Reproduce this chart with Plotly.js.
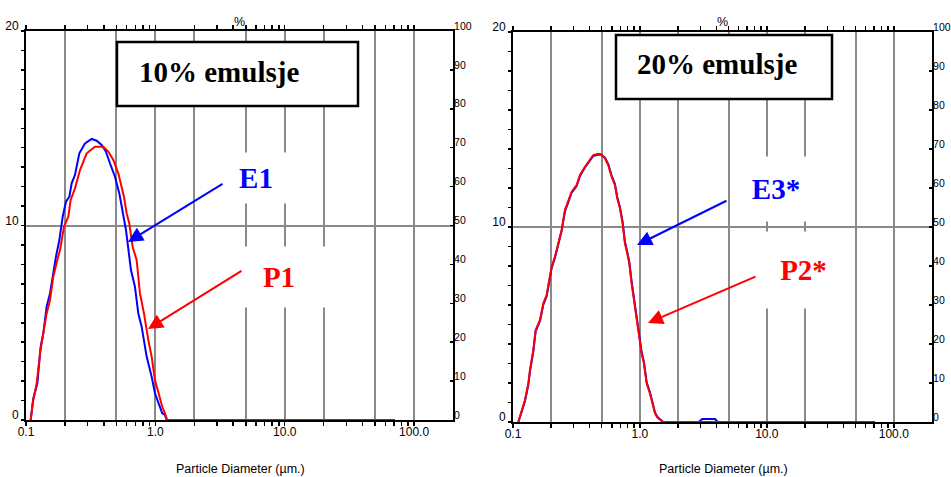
<!DOCTYPE html>
<html><head><meta charset="utf-8">
<script src="https://cdn.plot.ly/plotly-3.0.1.min.js"></script>
<style>html,body{margin:0;padding:0;background:#fff}</style>
</head><body><div id="chart" style="width:951px;height:477px"></div>
<script>
// ---- data (particle diameter in µm, volume %) ----
const e1X=[0.1087,0.1139,0.1224,0.1298,0.1361,0.1444,0.1533,0.1607,0.1705,0.181,0.1921,0.2038,0.2163,0.2254,0.2391,0.2584,0.2858,0.3218,0.3517,0.3845,0.4151,0.4457,0.4874,0.5265,0.5585,0.5927,0.6478,0.6955,0.738,0.7834,0.8563,0.9359,0.993,1.085,1.131,1.187,1.222,71];
const e1Y=[0,1.11,1.89,3.77,4.46,5.83,6.51,7.37,8.40,9.25,10.45,11.22,11.48,12.17,12.6,13.71,14.22,14.45,14.36,14.14,13.8,13.2,12.51,11.65,10.63,9.77,7.71,6.85,5.48,4.8,3.26,2.23,1.37,0.68,0.34,0.26,0,0];
const p1X=[0.1087,0.1126,0.121,0.1283,0.1361,0.1444,0.1533,0.1626,0.1746,0.1832,0.1967,0.2124,0.2214,0.2391,0.2614,0.2944,0.3414,0.396,0.4329,0.4731,0.5172,0.539,0.5718,0.5998,0.6288,0.6672,0.7165,0.7603,0.8166,0.882,0.9359,0.993,1.073,1.131,1.187,1.236,71];
const p1Y=[0,0.86,1.89,3.43,4.46,5.48,6.17,7.37,8.23,8.74,9.94,10.45,11.31,11.91,12.85,13.71,14.05,14.05,13.8,13.37,12.68,12.17,11.48,10.63,10.11,8.91,8.23,6.51,5.48,4.11,3.26,2.06,1.2,0.68,0.34,0,0];
const e3X=[0.1102,0.117,0.1243,0.1321,0.1361,0.1446,0.1508,0.1632,0.1734,0.1841,0.1932,0.2016,0.2141,0.2275,0.2416,0.2567,0.2727,0.2897,0.3172,0.337,0.3689,0.3919,0.429,0.4613,0.49,0.5302,0.5629,0.5983,0.6355,0.663,0.6958,0.7302,0.7618,0.7948,0.8241,0.86,0.8972,0.9414,0.9879,1.031,1.075,1.129,1.199,1.259,1.313,1.369,1.455,1.52,2.9,3.1,3.9,4.1,71];
const e3Y=[0,0.55,1.08,1.92,2.6,3.62,4.65,5.18,6.02,6.45,7.2,7.9,8.42,9.1,9.8,10.8,11.25,11.76,12.1,12.62,13.05,13.3,13.64,13.7,13.72,13.55,13.22,12.64,12.2,11.53,11.02,10.26,9.24,8.72,8.22,7.2,6.34,5.48,4.3,3.6,3.08,2.05,1.53,1.02,0.5,0.27,0.12,0,0,0.15,0.15,0,0];
const p2X=[0.1102,0.117,0.1243,0.1321,0.1361,0.1446,0.1508,0.1632,0.1734,0.1841,0.1932,0.2016,0.2141,0.2275,0.2416,0.2567,0.2727,0.2897,0.3172,0.337,0.3689,0.3919,0.429,0.4613,0.49,0.5302,0.5629,0.5983,0.6355,0.663,0.6958,0.7302,0.7618,0.7948,0.8241,0.86,0.8972,0.9414,0.9879,1.031,1.075,1.129,1.199,1.259,1.313,1.369,1.455,1.52,71];
const p2Y=[0,0.62,1.13,1.98,2.67,3.69,4.72,5.23,6.09,6.51,7.28,7.96,8.48,9.16,9.85,10.87,11.3,11.81,12.15,12.67,13.09,13.35,13.69,13.74,13.74,13.52,13.18,12.58,12.15,11.47,10.96,10.19,9.16,8.65,8.14,7.11,6.26,5.4,4.21,3.52,3.01,1.98,1.47,0.96,0.45,0.24,0.1,0,0];

const seriesNames=['E1','P1','E3*','P2*'];
const panelTitles=['10% emulsje','20% emulsje'];
const xTickVals=[0.1,1,10,100];
const xTickText=['0.1','1.0','10.0','100.0'];
const xGridVals=[0.1,0.2,0.5,1,2,5,10,20,50,100];
const xMinorVals=[0.3,0.4,0.6,0.7,0.8,0.9,3,4,6,7,8,9,30,40,60,70,80,90];
const leftTickVals=[0,10,20];
const rightTickVals=[0,10,20,30,40,50,60,70,80,90,100];
const xTitle='Particle Diameter (µm.)';
const pctTitle='%';

// ---- layout helpers ----
const W=951,H=477;
const fx=p=>p/W, fy=p=>1-p/H;
const BLUE='#0000ff', RED='#ff0000', GRID='#8a8a8a';
const sans='"Liberation Sans Narrow","Arial Narrow","Liberation Sans",Arial,sans-serif';
const tickFont={family:sans,size:12,color:'#000'};
const rightFont={family:sans,size:10.5,color:'#000'};
const serif='"Liberation Serif","Times New Roman",serif';
const xText=xGridVals.map(v=>{const i=xTickVals.indexOf(v);return i>=0?xTickText[i]:'';});

function xAxis(d0,d1,anchor){return {type:'log',range:[-1,Math.log10(200)],domain:[fx(d0),fx(d1)],anchor:anchor,
  tickmode:'array',tickvals:xGridVals,ticktext:xText,ticks:'outside',ticklen:4,tickwidth:1.5,tickcolor:'#000',
  minor:{tickmode:'array',tickvals:xMinorVals,ticks:'outside',ticklen:4,tickwidth:1.5,tickcolor:'#000',showgrid:false},
  showgrid:true,gridcolor:GRID,gridwidth:2,showline:true,linecolor:'#000',linewidth:2,mirror:'ticks',zeroline:false,
  tickfont:tickFont,ticklabelstandoff:-4,fixedrange:true};}
function yLeft(t,b,anchor){return {domain:[fy(b),fy(t)],anchor:anchor,range:[0,20],tickmode:'array',tickvals:leftTickVals,
  ticks:'outside',ticklen:3,tickwidth:1.5,tickcolor:'#000',
  minor:{tickmode:'linear',tick0:0,dtick:1,ticks:'outside',ticklen:3,tickwidth:1.5,tickcolor:'#000',showgrid:false},
  showgrid:true,gridcolor:GRID,gridwidth:2,showline:true,linecolor:'#000',linewidth:2,zeroline:false,
  tickfont:tickFont,ticklabelshift:-5,ticklabelstandoff:0,fixedrange:true};}
function yRight(over,anchor){return {overlaying:over,side:'right',anchor:anchor,range:[0,100],tickmode:'array',tickvals:rightTickVals,
  ticks:'inside',ticklen:3,tickwidth:1.5,tickcolor:'#000',showgrid:false,showline:true,linecolor:'#000',linewidth:2,zeroline:false,
  tickfont:rightFont,ticklabelshift:-5,ticklabelstandoff:-3,fixedrange:true};}

const ln=c=>({color:c,width:2});
const traces=[
  {x:[],y:[],xaxis:'x',yaxis:'y2',mode:'lines',showlegend:false,hoverinfo:'skip'},
  {x:[],y:[],xaxis:'x2',yaxis:'y4',mode:'lines',showlegend:false,hoverinfo:'skip'},
  {x:e1X,y:e1Y,xaxis:'x',yaxis:'y',mode:'lines',line:ln(BLUE),name:seriesNames[0],hoverinfo:'skip'},
  {x:p1X,y:p1Y,xaxis:'x',yaxis:'y',mode:'lines',line:ln(RED),name:seriesNames[1],hoverinfo:'skip'},
  {x:e3X,y:e3Y,xaxis:'x2',yaxis:'y3',mode:'lines',line:ln(BLUE),name:seriesNames[2],hoverinfo:'skip'},
  {x:p2X,y:p2Y,xaxis:'x2',yaxis:'y3',mode:'lines',line:ln(RED),name:seriesNames[3],hoverinfo:'skip'}
];

const ann=[];
const txt=(s,x,y,font,extra)=>ann.push(Object.assign({text:s,xref:'paper',yref:'paper',x:fx(x),y:fy(y),showarrow:false,font:font,xanchor:'center',yanchor:'middle'},extra||{}));
const smallFont={family:sans,size:12.5,color:'#000'};
txt(pctTitle,239.5,22,smallFont); txt(pctTitle,722.5,22,smallFont);
txt(xTitle,240,469,smallFont); txt(xTitle,723,469,smallFont);
const titleFont={family:serif,size:29,color:'#000'};
txt('<b>'+panelTitles[0]+'</b>',137,72,titleFont,{xanchor:'left'});
txt('<b>'+panelTitles[1]+'</b>',635,64,titleFont,{xanchor:'left'});
const lab=(s,x,y,c,w,h)=>txt('<b>'+s+'</b>',x,y,{family:serif,size:29,color:c},{bgcolor:'#fff',width:w,height:h,borderpad:0});
lab(seriesNames[0],256,178,BLUE,80,50);
lab(seriesNames[1],279,277,RED,110,60);
lab(seriesNames[2],776,189,BLUE,80,64);
lab(seriesNames[3],803,270,RED,95,76);
const arr=(hx,hy,ax,ay,c)=>ann.push({text:'',xref:'paper',yref:'paper',x:fx(hx),y:fy(hy),ax:ax,ay:ay,showarrow:true,
  arrowhead:2,arrowsize:1.5,arrowwidth:2,arrowcolor:c,standoff:0});
arr(128,242,96,-59,BLUE);
arr(148,329,95,-59,RED);
arr(637,245,91,-45,BLUE);
arr(648,323,109,-47,RED);

const box=(x0,y0,x1,y1)=>({type:'rect',xref:'paper',yref:'paper',x0:fx(x0),x1:fx(x1),y0:fy(y1),y1:fy(y0),
  fillcolor:'#fff',line:{color:'#000',width:2.5},layer:'above'});

const layout={width:W,height:H,margin:{l:0,r:0,t:0,b:0},paper_bgcolor:'#fff',plot_bgcolor:'#fff',showlegend:false,
  xaxis:xAxis(26,453,'y'),yaxis:yLeft(31,420,'x'),yaxis2:yRight('y','x'),
  xaxis2:xAxis(513,932,'y3'),yaxis3:yLeft(32,422,'x2'),yaxis4:yRight('y3','x2'),
  annotations:ann,shapes:[box(117,42,358,106),box(616,35,832,99)]};

Plotly.newPlot('chart',traces,layout,{staticPlot:true,displayModeBar:false});
</script></body></html>
